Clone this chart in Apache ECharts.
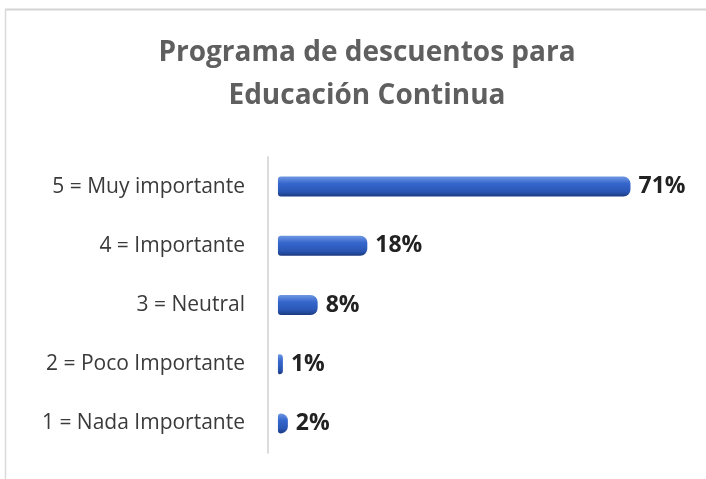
<!DOCTYPE html>
<html>
<head>
<meta charset="utf-8">
<script src="https://cdn.jsdelivr.net/npm/echarts@6/dist/echarts.min.js"></script>
<style>
  html, body { margin: 0; padding: 0; background: #fff; }
  #chart { width: 706px; height: 479px; }
</style>
</head>
<body>
<div id="chart"></div>
<script>
// categories bottom -> top (category axis draws first item at bottom)
const categories = [
  "1 = Nada Importante",
  "2 = Poco Importante",
  "3 = Neutral",
  "4 = Importante",
  "5 = Muy importante"
];
// percent values
const values = [2, 1, 8, 18, 71];
const titleText = "Programa de descuentos para\nEducación Continua";

const chart = echarts.init(document.getElementById("chart"));

// cylinder-ish look
const barColor = new echarts.graphic.LinearGradient(0, 0, 0, 1, [
  { offset: 0, color: "#6f97e3" },
  { offset: 0.35, color: "#3566cc" },
  { offset: 0.75, color: "#2a57b5" },
  { offset: 1, color: "#1b3a80" }
]);

const option = {
  backgroundColor: "#fff",
  animation: false,
  title: {
    text: titleText,
    left: 362,
    textAlign: "center",
    top: 27,
    textStyle: {
      fontFamily: "Open Sans",
      fontSize: 28,
      fontWeight: "bold",
      color: "#5f5f5f",
      lineHeight: 43
    }
  },
  graphic: [
    // frame lines top + left
    { type: "line", shape: { x1: 5, y1: 9.5, x2: 706, y2: 9.5 }, style: { stroke: "#d4d4d4", lineWidth: 2 } },
    { type: "line", shape: { x1: 5.5, y1: 9, x2: 5.5, y2: 479 }, style: { stroke: "#d9d9d9", lineWidth: 1.5 } }
  ],
  grid: {
    left: 268,
    top: 157,
    width: 432,
    height: 296
  },
  xAxis: {
    type: "value",
    min: -2,
    max: 85,
    show: false,
    splitLine: { show: false }
  },
  yAxis: {
    type: "category",
    data: categories,
    axisLine: { onZero: false, lineStyle: { color: "#d0d0d0", width: 1.5 } },
    axisTick: { show: false },
    axisLabel: {
      margin: 23,
      fontFamily: "Open Sans",
      fontSize: 21,
      color: "#3a3a3a"
    }
  },
  series: [
    {
      type: "bar",
      data: values,
      barWidth: 20,
      itemStyle: {
        color: barColor,
        borderRadius: [3, 7, 7, 3]
      },
      label: {
        show: true,
        position: "right",
        distance: 8,
        formatter: "{c}%",
        fontFamily: "Open Sans",
        fontSize: 23,
        fontWeight: "bold",
        color: "#222"
      }
    }
  ]
};

chart.setOption(option);
</script>
</body>
</html>
